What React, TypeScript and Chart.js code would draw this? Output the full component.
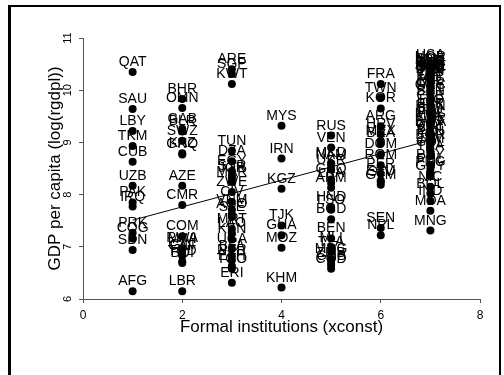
import React, { useEffect, useRef } from "react";
import { Chart, registerables } from "chart.js";

Chart.register(...registerables);

// xconst groups
const xconstLevels = [1, 2, 3, 4, 5, 6, 7];

const codes1 = ["QAT", "SAU", "LBY", "TKM", "CUB", "UZB", "PAK", "IRQ", "PRK", "COG", "SDN", "AFG"];
const gdp1 = [10.35, 9.64, 9.22, 8.93, 8.63, 8.17, 7.85, 7.77, 7.27, 7.16, 6.94, 6.15];

const codes2 = ["BHR", "OMN", "GAB", "BLR", "SWZ", "GNQ", "KAZ", "AZE", "CMR", "COM", "RWA", "MWI", "GIN", "CAF", "TCD", "BDI", "LBR"];
const gdp2 = [9.83, 9.66, 9.26, 9.21, 9.03, 8.77, 8.79, 8.17, 7.8, 7.2, 6.97, 6.95, 6.85, 6.83, 6.72, 6.69, 6.15];

const codes3 = ["ARE", "SGP", "KWT", "TUN", "DZA", "EGY", "SYR", "JOR", "MAR", "ZWE", "CIV", "VNM", "AGO", "SLE", "MRT", "LAO", "KEN", "UGA", "BFA", "NER", "ETH", "TGO", "ERI"];
const gdp3 = [10.4, 10.31, 10.12, 8.84, 8.64, 8.45, 8.36, 8.31, 8.24, 8.05, 7.86, 7.71, 7.62, 7.57, 7.34, 7.26, 7.14, 6.96, 6.82, 6.74, 6.63, 6.58, 6.31];

const codes4 = ["MYS", "IRN", "KGZ", "TJK", "GHA", "MOZ", "KHM"];
const gdp4 = [9.32, 8.69, 8.11, 7.41, 7.22, 6.98, 6.22];

const codes5 = ["RUS", "VEN", "MKD", "NAM", "UKR", "GEO", "LKA", "ARM", "HND", "LSO", "BGD", "BEN", "MLI", "TZA", "MDG", "ZMB", "GNB", "COD"];
const gdp5 = [9.13, 8.9, 8.6, 8.57, 8.48, 8.29, 8.22, 8.13, 7.76, 7.71, 7.53, 7.16, 6.98, 6.9, 6.76, 6.69, 6.64, 6.58];

const codes6 = ["FRA", "TWN", "KOR", "ARG", "HRV", "MEX", "BRA", "DOM", "ROM", "PER", "ECU", "SLV", "GTM", "SEN", "NPL"];
const gdp6 = [10.12, 9.86, 9.65, 9.31, 9.16, 9.03, 8.98, 8.77, 8.56, 8.4, 8.27, 8.24, 8.19, 7.36, 7.22];

const codes7 = ["USA", "NOR", "CHE", "IRL", "NLD", "DNK", "CAN", "AUT", "AUS", "ISL", "BEL", "SWE", "GBR", "FIN", "DEU", "JPN", "ITA", "ESP", "NZL", "ISR", "CYP", "GRC", "PRT", "SVN", "CZE", "TTO", "EST", "SVK", "HUN", "LTU", "POL", "MUS", "LVA", "CHL", "BWA", "URY", "CRI", "ZAF", "PAN", "BGR", "JAM", "COL", "THA", "PRY", "PHL", "PNG", "GUY", "NIC", "BOL", "IND", "MDA", "MNG"];
const gdp7 = [10.48, 10.45, 10.41, 10.38, 10.36, 10.35, 10.33, 10.33, 10.3, 10.3, 10.28, 10.27, 10.26, 10.22, 10.22, 10.2, 10.16, 10.08, 10.0, 9.98, 9.95, 9.9, 9.82, 9.8, 9.7, 9.62, 9.55, 9.55, 9.5, 9.42, 9.4, 9.35, 9.32, 9.3, 9.2, 9.15, 9.1, 9.05, 9.0, 8.95, 8.88, 8.82, 8.74, 8.57, 8.5, 8.44, 8.35, 8.15, 8.02, 7.88, 7.69, 7.31];

const groupCodes = [codes1, codes2, codes3, codes4, codes5, codes6, codes7];
const groupGdp = [gdp1, gdp2, gdp3, gdp4, gdp5, gdp6, gdp7];

// fitted line endpoints
const fitX = [1, 7];
const fitY = [7.51, 9.04];

const xTicks = [0, 2, 4, 6, 8];
const yTicks = [6, 7, 8, 9, 10, 11];

const FONT = "'Liberation Sans', Arial, sans-serif";

export default function App() {
  const ref = useRef<HTMLCanvasElement | null>(null);

  useEffect(() => {
    const canvas = ref.current;
    if (!canvas) return;

    const labels: string[] = [];
    const points: { x: number; y: number }[] = [];
    groupCodes.forEach((codes, g) => {
      codes.forEach((c, i) => {
        labels.push(c);
        points.push({ x: xconstLevels[g], y: groupGdp[g][i] });
      });
    });
    const fitPoints = fitX.map((x, i) => ({ x, y: fitY[i] }));

    const labelPlugin = {
      id: "pointLabels",
      beforeDatasetsDraw(chart: any) {
        const ctx = chart.ctx;
        const meta = chart.getDatasetMeta(0);
        ctx.save();
        ctx.fillStyle = "#000";
        ctx.font = `14px ${FONT}`;
        ctx.textAlign = "center";
        ctx.textBaseline = "alphabetic";
        meta.data.forEach((el: any, i: number) => {
          ctx.fillText(labels[i], el.x, el.y - 6);
        });
        ctx.restore();
      },
      afterDraw(chart: any) {
        const ctx = chart.ctx;
        const ys = chart.scales.y;
        ctx.save();
        ctx.fillStyle = "#000";
        ctx.font = `11px ${FONT}`;
        ctx.textAlign = "center";
        ctx.textBaseline = "middle";
        ys.ticks.forEach((t: any) => {
          const py = ys.getPixelForValue(t.value);
          ctx.save();
          ctx.translate(68, py);
          ctx.rotate(-Math.PI / 2);
          ctx.fillText(String(t.value), 0, 0);
          ctx.restore();
        });
        // frame
        ctx.strokeStyle = "#000";
        ctx.lineWidth = 3;
        ctx.beginPath();
        ctx.moveTo(9.5, 5);
        ctx.lineTo(9.5, 375);
        ctx.stroke();
        ctx.lineWidth = 2;
        ctx.beginPath();
        ctx.moveTo(8, 6);
        ctx.lineTo(501, 6);
        ctx.moveTo(500, 5);
        ctx.lineTo(500, 375);
        ctx.stroke();
        ctx.restore();
      },
    };

    const chart = new Chart(canvas, {
      type: "scatter",
      data: {
        datasets: [
          {
            type: "scatter",
            data: points,
            pointRadius: 4,
            pointHoverRadius: 4,
            backgroundColor: "#000",
            borderColor: "#000",
            borderWidth: 0,
            order: 0,
          } as any,
          {
            type: "line",
            data: fitPoints,
            borderColor: "#000",
            borderWidth: 1,
            pointRadius: 0,
            showLine: true,
            fill: false,
            order: 1,
          } as any,
        ],
      },
      options: {
        responsive: false,
        animation: false,
        devicePixelRatio: 1,
        events: [],
        layout: { padding: { left: 0, top: 38, right: 24, bottom: 0 } },
        plugins: {
          legend: { display: false },
          tooltip: { enabled: false },
        },
        scales: {
          x: {
            type: "linear",
            min: 0,
            max: 8,
            afterBuildTicks: (s: any) => {
              s.ticks = xTicks.map((v) => ({ value: v }));
            },
            afterFit: (s: any) => {
              s.height = 76;
            },
            ticks: {
              color: "#000",
              font: { family: FONT, size: 12 },
              padding: 5,
              maxRotation: 0,
            },
            grid: {
              display: true,
              drawOnChartArea: false,
              drawTicks: true,
              tickLength: 4,
              color: "#555",
            },
            border: { display: true, color: "#555", width: 1 },
            title: {
              display: true,
              text: "Formal institutions (xconst)",
              color: "#000",
              font: { family: FONT, size: 17 },
              padding: { top: 0, bottom: 37 },
            },
          },
          y: {
            type: "linear",
            min: 6,
            max: 11,
            afterBuildTicks: (s: any) => {
              s.ticks = yTicks.map((v) => ({ value: v }));
            },
            afterFit: (s: any) => {
              s.width = 83;
            },
            ticks: { display: false },
            grid: {
              display: true,
              drawOnChartArea: false,
              drawTicks: true,
              tickLength: 4,
              color: "#555",
            },
            border: { display: true, color: "#555", width: 1 },
            title: {
              display: true,
              text: "GDP per capita (log(rgdpl))",
              color: "#000",
              font: { family: FONT, size: 17 },
              padding: { top: 45, bottom: 0 },
            },
          },
        },
      },
      plugins: [labelPlugin],
    });

    return () => {
      chart.destroy();
    };
  }, []);

  return (
    <div style={{ position: "absolute", left: 0, top: 0, width: 504, height: 375, background: "#fff" }}>
      <canvas ref={ref} width={504} height={375} style={{ display: "block" }} />
    </div>
  );
}
